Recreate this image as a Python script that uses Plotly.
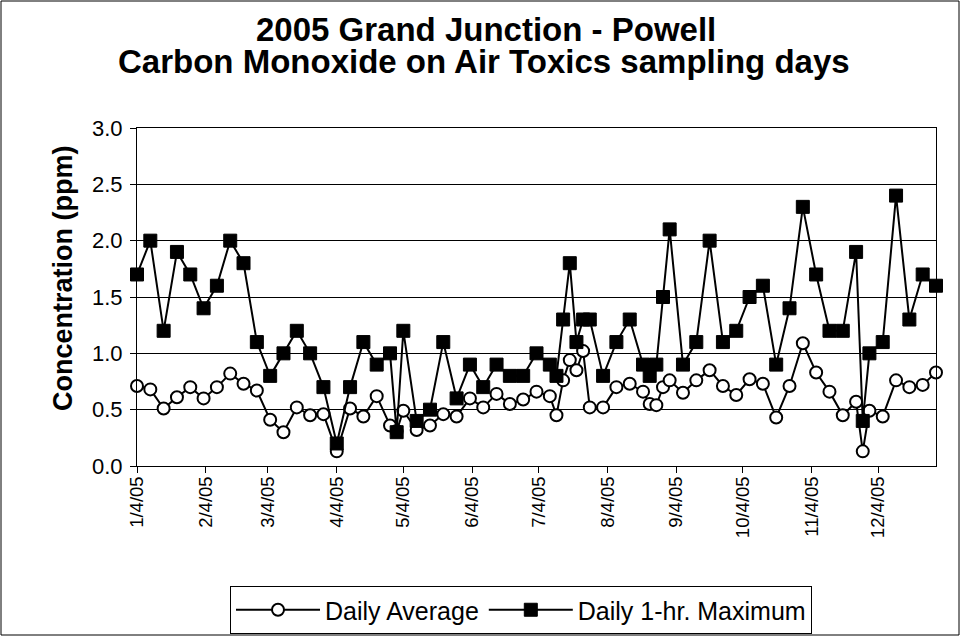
import plotly.graph_objects as go

# sampling days (1-in-6 schedule plus make-up days)
dates = ['2005-01-04', '2005-01-10', '2005-01-16', '2005-01-22', '2005-01-28',
         '2005-02-03', '2005-02-09', '2005-02-15', '2005-02-21', '2005-02-27',
         '2005-03-05', '2005-03-11', '2005-03-17', '2005-03-23', '2005-03-29',
         '2005-04-04', '2005-04-10', '2005-04-16', '2005-04-22', '2005-04-28',
         '2005-05-01', '2005-05-04', '2005-05-10', '2005-05-16', '2005-05-22',
         '2005-05-28', '2005-06-03', '2005-06-09', '2005-06-15', '2005-06-21',
         '2005-06-27', '2005-07-03', '2005-07-09', '2005-07-12', '2005-07-15',
         '2005-07-18', '2005-07-21', '2005-07-24', '2005-07-27', '2005-08-02',
         '2005-08-08', '2005-08-14', '2005-08-20', '2005-08-23', '2005-08-26',
         '2005-08-29', '2005-09-01', '2005-09-07', '2005-09-13', '2005-09-19',
         '2005-09-25', '2005-10-01', '2005-10-07', '2005-10-13', '2005-10-19',
         '2005-10-25', '2005-10-31', '2005-11-06', '2005-11-12', '2005-11-18',
         '2005-11-24', '2005-11-27', '2005-11-30', '2005-12-06', '2005-12-12',
         '2005-12-18', '2005-12-24', '2005-12-30']

daily_avg = [0.71, 0.68, 0.51, 0.61, 0.70, 0.60, 0.70, 0.82, 0.73, 0.67,
             0.41, 0.30, 0.52, 0.45, 0.46, 0.13, 0.51, 0.44, 0.62, 0.36,
             0.31, 0.49, 0.32, 0.36, 0.46, 0.44, 0.60, 0.52, 0.64, 0.55,
             0.59, 0.66, 0.62, 0.45, 0.76, 0.94, 0.85, 1.02, 0.52, 0.52,
             0.70, 0.73, 0.66, 0.55, 0.54, 0.70, 0.76, 0.65, 0.76, 0.85,
             0.71, 0.63, 0.77, 0.73, 0.43, 0.71, 1.09, 0.83, 0.66, 0.45,
             0.57, 0.13, 0.49, 0.44, 0.76, 0.70, 0.72, 0.83]

daily_max = [1.7, 2.0, 1.2, 1.9, 1.7, 1.4, 1.6, 2.0, 1.8, 1.1,
             0.8, 1.0, 1.2, 1.0, 0.7, 0.2, 0.7, 1.1, 0.9, 1.0,
             0.3, 1.2, 0.4, 0.5, 1.1, 0.6, 0.9, 0.7, 0.9, 0.8,
             0.8, 1.0, 0.9, 0.8, 1.3, 1.8, 1.1, 1.3, 1.3, 0.8,
             1.1, 1.3, 0.9, 0.8, 0.9, 1.5, 2.1, 0.9, 1.1, 2.0,
             1.1, 1.2, 1.5, 1.6, 0.9, 1.4, 2.3, 1.7, 1.2, 1.2,
             1.9, 0.4, 1.0, 1.1, 2.4, 1.3, 1.7, 1.6]

tick_dates = ['2005-01-04', '2005-02-04', '2005-03-04', '2005-04-04', '2005-05-04',
              '2005-06-04', '2005-07-04', '2005-08-04', '2005-09-04', '2005-10-04',
              '2005-11-04', '2005-12-04']
tick_labels = ['1/4/05', '2/4/05', '3/4/05', '4/4/05', '5/4/05', '6/4/05',
               '7/4/05', '8/4/05', '9/4/05', '10/4/05', '11/4/05', '12/4/05']

FONT = "Liberation Sans, Arial, sans-serif"

fig = go.Figure()

fig.add_trace(go.Scatter(x=dates, y=daily_avg, name='Daily Average', mode='lines+markers',
                         line=dict(color='black', width=2), cliponaxis=False,
                         marker=dict(symbol='circle', size=12, color='white',
                                     line=dict(color='black', width=2))))

fig.add_trace(go.Scatter(x=dates, y=daily_max, name='Daily 1-hr. Maximum', mode='lines+markers',
                         line=dict(color='black', width=2), cliponaxis=False,
                         marker=dict(symbol='square', size=13, color='black',
                                     line=dict(color='black', width=1))))

# plot area in pixels (left, top, width, height)
L, T, W, H = 137, 128, 799, 338
def px_x(p): return (p - L) / W
def px_y(p): return (T + H - p) / H

# chart border round the whole picture
fig.add_shape(type='rect', xref='paper', yref='paper',
              x0=px_x(1), x1=px_x(959), y0=px_y(635), y1=px_y(1),
              line=dict(color='black', width=1), layer='below')

# two-line title, Excel style with tight line spacing
fig.add_annotation(text='<b>2005 Grand Junction - Powell</b>', xref='paper', yref='paper',
                   x=px_x(486), y=px_y(29.5), showarrow=False, xanchor='center', yanchor='middle',
                   font=dict(size=33, color='black', family=FONT))
fig.add_annotation(text='<b>Carbon Monoxide on Air Toxics sampling days</b>', xref='paper', yref='paper',
                   x=px_x(484), y=px_y(61), showarrow=False, xanchor='center', yanchor='middle',
                   font=dict(size=33, color='black', family=FONT))

# y axis title
fig.add_annotation(text='<b>Concentration (ppm)</b>', xref='paper', yref='paper',
                   x=px_x(63), y=px_y(279), showarrow=False, textangle=-90,
                   xanchor='center', yanchor='middle',
                   font=dict(size=27, color='black', family=FONT))

fig.update_layout(
    width=961, height=637,
    margin=dict(l=L, r=961 - L - W, t=T, b=637 - T - H, autoexpand=False),
    paper_bgcolor='white', plot_bgcolor='white',
    font=dict(family=FONT, color='black', size=22),
    showlegend=True,
    legend=dict(orientation='h', x=px_x(521), xanchor='center', y=px_y(586), yanchor='top',
                bordercolor='black', borderwidth=1, bgcolor='white', itemwidth=84,
                font=dict(size=25, family=FONT)),
)

fig.update_xaxes(type='date', range=['2005-01-04', '2005-12-30'],
                 tickvals=tick_dates, ticktext=tick_labels, tickangle=-90,
                 tickfont=dict(size=18.5), ticks='outside', ticklen=6, tickcolor='black',
                 ticklabelstandoff=-4,
                 showgrid=False, showline=True, linecolor='black', linewidth=1, mirror=True,
                 zeroline=False)

fig.update_yaxes(range=[0, 3], dtick=0.5, tickformat='.1f',
                 ticks='outside', ticklen=6, tickcolor='black', ticklabelstandoff=3,
                 showgrid=True, gridcolor='black', gridwidth=1,
                 showline=True, linecolor='black', linewidth=1, mirror=True, zeroline=False)

fig.write_html("out.html", config={'displayModeBar': False},
               post_script="document.body.style.margin='0px';")
